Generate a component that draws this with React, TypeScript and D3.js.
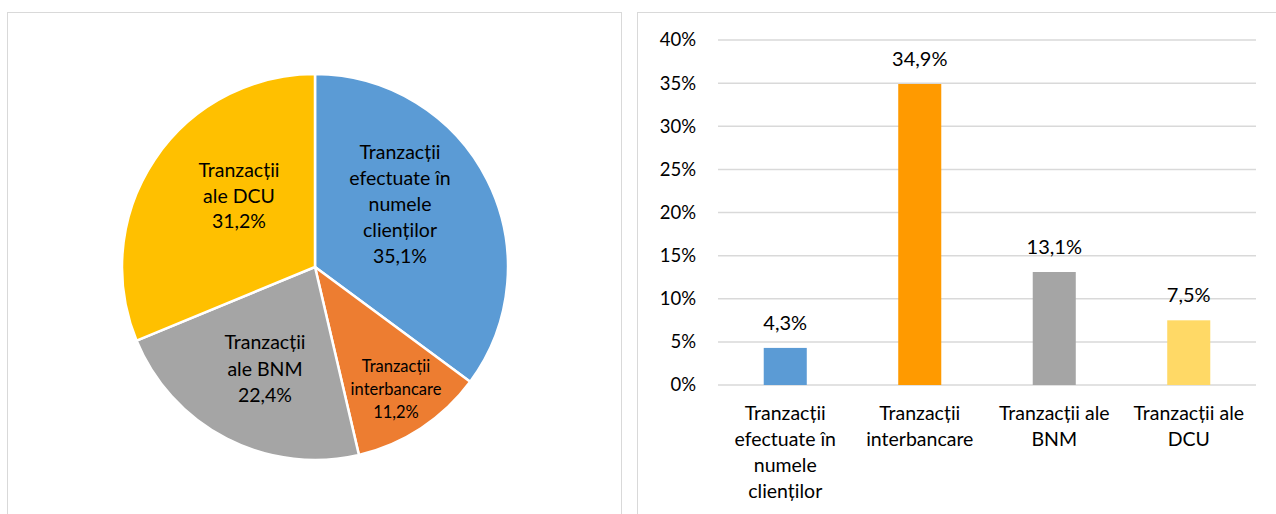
import React from "react";
import * as d3 from "d3";

const pieCategories = [
  ["Tranzacții", "efectuate în", "numele", "clienților"],
  ["Tranzacții", "interbancare"],
  ["Tranzacții", "ale BNM"],
  ["Tranzacții", "ale DCU"],
];
const pieValues = [35.1, 11.2, 22.4, 31.2];
const pieColors = ["#5B9BD5", "#ED7D31", "#A5A5A5", "#FFC000"];

const barCategories = [
  ["Tranzacții", "efectuate în", "numele", "clienților"],
  ["Tranzacții", "interbancare"],
  ["Tranzacții ale", "BNM"],
  ["Tranzacții ale", "DCU"],
];
const barValues = [4.3, 34.9, 13.1, 7.5];
const barColors = ["#5B9BD5", "#FF9A00", "#A5A5A5", "#FFD966"];
const yTicks = [0, 5, 10, 15, 20, 25, 30, 35, 40];

const FONT = "Lato, 'Open Sans', sans-serif";
const fmt = (v: number) => v.toFixed(1).replace(".", ",") + "%";

// label placement (relative to pie center): x, y, font size, line height
const pieLabelPos: [number, number, number, number][] = [
  [85, -63, 19.5, 26],
  [81, 122, 16.5, 23],
  [-50, 102, 19.5, 26.5],
  [-76, -71, 19.5, 25.5],
];

export default function App() {
  const cx = 315, cy = 267, r = 193;
  const pie = d3.pie<number>().sort(null).value((d) => d)(pieValues);
  const arc = d3.arc<d3.PieArcDatum<number>>().innerRadius(0).outerRadius(r);

  const x = d3.scaleBand<number>().domain(d3.range(barValues.length)).range([718, 1256]).paddingInner(0.68).paddingOuter(0.34);
  const y = d3.scaleLinear().domain([0, 40]).range([385, 40]);

  return (
    <svg width={1276} height={514} style={{ position: "absolute", left: 0, top: 0, background: "#fff" }} fontFamily={FONT}>
      <rect x={7.5} y={12.5} width={614} height={520} fill="#fff" stroke="#D9D9D9" />
      <rect x={637.5} y={12.5} width={660} height={520} fill="#fff" stroke="#D9D9D9" />

      <g transform={`translate(${cx},${cy})`}>
        {pie.map((p, i) => (
          <path key={i} d={arc(p) || ""} fill={pieColors[i]} stroke="#fff" strokeWidth={2.5} />
        ))}
        {pie.map((p, i) => {
          const [lx, ly, fs, lh] = pieLabelPos[i];
          const lines = [...pieCategories[i], fmt(pieValues[i])];
          const start = ly - ((lines.length - 1) * lh) / 2;
          return (
            <text key={i} textAnchor="middle" fontSize={fs} fill="#000">
              {lines.map((l, j) => (
                <tspan key={j} x={lx} y={start + j * lh} dy="0.35em">{l}</tspan>
              ))}
            </text>
          );
        })}
      </g>

      <g>
        {yTicks.map((t) => (
          <g key={t}>
            <line x1={718} x2={1256} y1={y(t)} y2={y(t)} stroke="#D9D9D9" strokeWidth={1.5} />
            <text x={696} y={y(t)} dy="0.35em" textAnchor="end" fontSize={18.5} fill="#000">{t}%</text>
          </g>
        ))}
        {barValues.map((v, i) => (
          <g key={i}>
            <rect x={x(i)} y={y(v)} width={x.bandwidth()} height={y(0) - y(v)} fill={barColors[i]} />
            <text x={(x(i) as number) + x.bandwidth() / 2} y={y(v) - 25} dy="0.35em" textAnchor="middle" fontSize={20} fill="#000">{fmt(v)}</text>
            <text textAnchor="middle" fontSize={19.5} fill="#000">
              {barCategories[i].map((l, j) => (
                <tspan key={j} x={(x(i) as number) + x.bandwidth() / 2} y={413 + j * 26} dy="0.35em">{l}</tspan>
              ))}
            </text>
          </g>
        ))}
      </g>
    </svg>
  );
}
